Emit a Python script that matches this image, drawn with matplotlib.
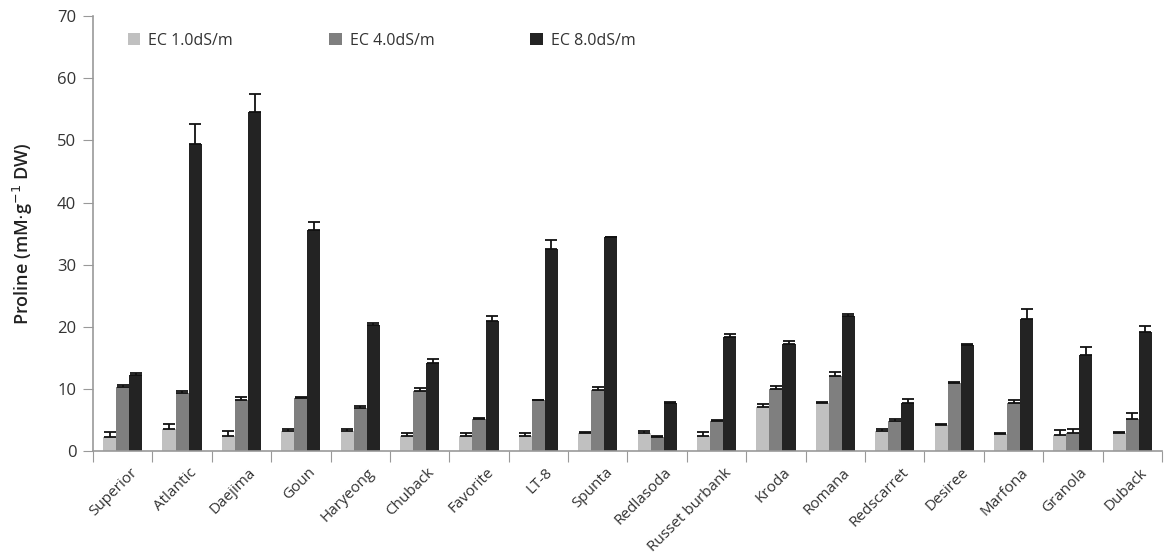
import numpy as np
import matplotlib
matplotlib.use("Agg")
from matplotlib import pyplot as plt
from matplotlib.transforms import ScaledTranslation

cultivars = ["Superior", "Atlantic", "Daejima", "Goun", "Haryeong", "Chuback",
             "Favorite", "LT-8", "Spunta", "Redlasoda", "Russet burbank", "Kroda",
             "Romana", "Redscarret", "Desiree", "Marfona", "Granola", "Duback"]

ec1 = [2.3, 3.5, 2.5, 3.2, 3.3, 2.5, 2.4, 2.4, 2.85, 3.0, 2.4, 7.1,
       7.8, 3.3, 4.2, 2.7, 2.6, 2.85]
ec1_err = [0.75, 0.9, 0.7, 0.3, 0.3, 0.4, 0.55, 0.55, 0.25, 0.2, 0.7, 0.5,
           0.1, 0.3, 0.2, 0.2, 0.8, 0.2]

ec4 = [10.3, 9.4, 8.3, 8.6, 6.9, 9.7, 5.15, 8.2, 9.8, 2.3, 4.9, 10.0,
       12.1, 4.8, 11.0, 7.7, 2.95, 5.25]
ec4_err = [0.4, 0.35, 0.4, 0.05, 0.4, 0.4, 0.25, 0.05, 0.45, 0.2, 0.05, 0.5,
           0.7, 0.45, 0.15, 0.5, 0.55, 0.85]

ec8 = [12.3, 49.4, 54.6, 35.6, 20.35, 14.2, 20.9, 32.5, 34.4, 7.7, 18.3, 17.3,
       21.8, 7.8, 17.1, 21.2, 15.5, 19.2]
ec8_err = [0.25, 3.2, 2.8, 1.2, 0.25, 0.7, 0.8, 1.4, 0.05, 0.2, 0.6, 0.4,
           0.25, 0.6, 0.2, 1.7, 1.2, 1.0]

series = [("EC 1.0dS/m", ec1, ec1_err, "#c0c0c0"),
          ("EC 4.0dS/m", ec4, ec4_err, "#7f7f7f"),
          ("EC 8.0dS/m", ec8, ec8_err, "#232323")]

plt.rcParams['font.family'] = ['Open Sans', 'DejaVu Sans']

fig = plt.figure(figsize=(11.71, 5.57), dpi=100)
ax = fig.add_axes([0.0794, 0.190, 0.9129, 0.781])

centers = np.arange(len(cultivars)) + 0.5
width = 0.22
for k, (name, vals, errs, color) in enumerate(series):
    xs = centers + (k - 1) * width
    ax.bar(xs, vals, width=width, color=color, label=name, zorder=2)
    ax.errorbar(xs, vals, yerr=[np.zeros(len(errs)), errs], fmt="none",
                ecolor="#111111", elinewidth=1.3, capsize=4, capthick=1.3,
                zorder=3)

ax.set_xlim(0, len(cultivars))
ax.set_ylim(0, 70)
ax.set_yticks(range(0, 71, 10))
ax.tick_params(axis="y", direction="out", length=7, pad=5, color="#999999",
               labelsize=12, labelcolor="#333333")

# group boundaries get the tick marks, names sit at the group centres
ax.set_xticks(np.arange(len(cultivars) + 1))
ax.set_xticklabels([])
ax.tick_params(axis="x", which="major", direction="out", length=8,
               color="#999999")
ax.set_xticks(centers, minor=True)
ax.set_xticklabels(cultivars, minor=True, rotation=45, ha="right",
                   rotation_mode="anchor", fontsize=11, color="#333333")
ax.tick_params(axis="x", which="minor", length=0, pad=10)
shift = ScaledTranslation(7 / 100, 0, fig.dpi_scale_trans)
for lbl in ax.get_xticklabels(minor=True):
    lbl.set_transform(lbl.get_transform() + shift)

for side in ("top", "right"):
    ax.spines[side].set_visible(False)
for side in ("left", "bottom"):
    ax.spines[side].set_color("#999999")
    ax.spines[side].set_linewidth(1.2)

ax.set_ylabel(r"Proline (mM$\cdot$g$^{-1}$ DW)", fontsize=13,
              fontweight="semibold", color="#222222", labelpad=16)

ax.legend(loc="upper left", bbox_to_anchor=(0.019, 0.995), ncol=3,
          frameon=False, fontsize=11.5, labelcolor="#333333",
          handlelength=0.8, handleheight=0.8, columnspacing=6.0,
          handletextpad=0.5)

fig.savefig("out.png", dpi=100)
